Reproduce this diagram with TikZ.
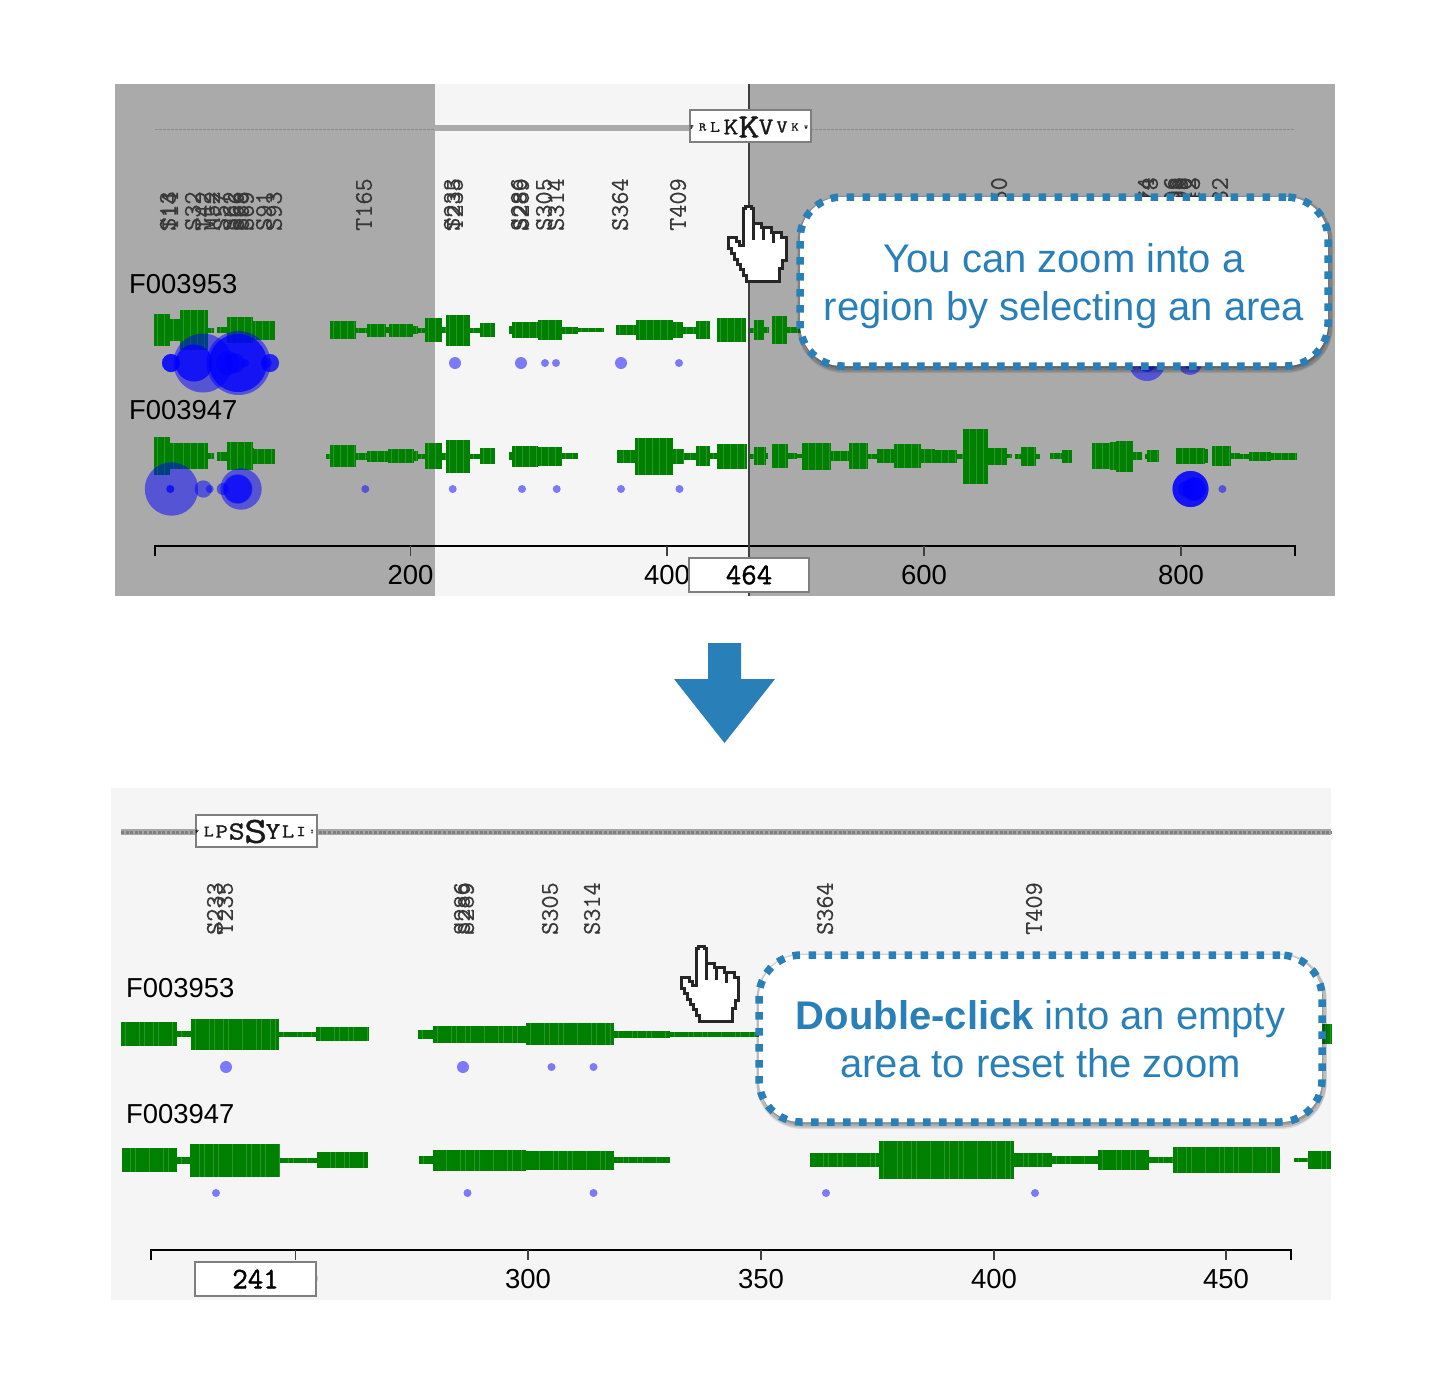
\documentclass[tikz,border=0pt]{standalone}
\usepackage{fontspec}
\setmainfont{Liberation Sans}
\newfontfamily\logofont[FakeBold=1.2,FakeStretch=1.2]{Latin Modern Mono}
\newfontfamily\posfont[FakeBold=1.2]{Latin Modern Mono}
\newfontfamily\labfont[FakeBold=.25]{Latin Modern Mono}
\usetikzlibrary{shadows}
\definecolor{calloutblue}{HTML}{2980B9}
\definecolor{panelbg}{HTML}{F5F5F5}
\definecolor{maskgrey}{HTML}{AAAAAA}
\definecolor{genedark}{HTML}{008000}
\definecolor{genelight}{HTML}{2A932A}
\definecolor{logoedge}{HTML}{7F7F7F}
\tikzset{
  vlab/.style={rotate=90,anchor=west,inner sep=0pt,text=black!78,font=\labfont\fontsize{25.5}{25.5}\selectfont},
  vfrag/.style={rotate=90,anchor=east,inner sep=0pt,text=black!78,font=\labfont\fontsize{25.5}{25.5}\selectfont},
  seqname/.style={anchor=base west,inner sep=0pt,font=\fontsize{27.4}{30}\selectfont},
  ticklab/.style={anchor=base,inner sep=0pt,font=\fontsize{27.5}{30}\selectfont},
  axisline/.style={draw=black,line width=1.6pt},
  axistick/.style={draw=black!75,line width=1.3pt},
  logobox/.style={draw=logoedge,fill=white,line width=2pt,inner sep=0pt,outer sep=0pt,minimum width=121pt,minimum height=32pt},
  posbox/.style={draw=logoedge,fill=white,line width=2pt,inner sep=0pt,outer sep=0pt,minimum width=120pt,minimum height=34pt,
     font=\posfont\fontsize{30}{30}\selectfont},
  logoletter/.style={inner sep=0pt,text=black!90},
  dot/.style={fill=blue,fill opacity=.5},
  callout/.style={draw=calloutblue,fill=white,line width=7.5pt,dash pattern=on 7.5pt off 8.5pt,rounded corners=42pt,
     inner sep=0pt,outer sep=0pt,
     drop shadow={shadow xshift=1pt,shadow yshift=-3.5pt,opacity=.1,fill=black,draw=black,solid,line width=7pt},
     drop shadow={shadow xshift=1pt,shadow yshift=-2pt,opacity=.14,fill=black,draw=black,solid,line width=7pt}},
  callouttext/.style={inner sep=0pt,align=center,text=calloutblue,font=\fontsize{40}{48}\selectfont},
  cursorhand/.pic={
    \draw[fill=white,draw=black!85,line width=3pt,miter limit=4]
      (16.7,39)--(16.7,2)--(19,2)--(19,0)--(25,0)--(25,2)--(26.7,2)--(26.7,17)--(35,17)--(35,21)--(45,21)--(45,26)
      --(55,26)--(55,31)--(59.3,31)--(59.3,54)--(56,54)--(56,62)--(53,62)--(53,74.7)--(20,74.7)--(20,69)--(17,69)
      --(17,63)--(14,63)--(14,58)--(11,58)--(11,53)--(8,53)--(8,47)--(5,47)--(5,42)--(2,42)--(2,31)--(10,31)--(10,35)
      --(13,35)--(13,39)--cycle;
    \draw[draw=black!85,line width=2.6pt] (26.7,17)--(26.7,33) (36.7,21)--(36.7,33) (47,26)--(47,36);
  }
}
\newcommand\genebars[3]{\foreach \a/\b/\h in {#3}{%
  \fill[genelight] (\a,#1-\h) rectangle (\b,#1+\h);%
  \draw[genedark,line width=2*\h pt,dash pattern=on #2pt off .5pt] (\a,#1)--(\b,#1);}}
\begin{document}
\begin{tikzpicture}[x=1pt,y=-1pt]
\useasboundingbox (0,0) rectangle (1447,1385);
\fill[white] (0,0) rectangle (1447,1385);
% ---------- top panel ----------
\fill[panelbg] (115,84) rectangle (1335,596);
\fill[maskgrey] (115,84) rectangle (435,596);
\fill[maskgrey] (749,84) rectangle (1335,596);
\fill[maskgrey] (435,125) rectangle (690,131);
\draw[black!45,line width=.6pt,dash pattern=on 3pt off 1pt] (155,129)--(435,129);
\draw[black!45,line width=.6pt,dash pattern=on 3pt off 1pt] (811,129)--(1295,129);
\foreach \x/\t [count=\i] in {168/S13,170/T14,193/S32,203/T42,212/M52,221/S57,231/S62,236/S66,241/S68,246/S69,264/S91,274/S93}
  \node[vlab] (ta\i) at (\x,231) {\t};
\foreach \x/\t [count=\i] in {364/T165,452/S233,455/T235,519/S286,521/S289,544/S305,556/S314,620/S364,678/T409}
  \node[vlab] (tb\i) at (\x,231) {\t};
\foreach \x/\t [count=\i] in {999/50,1146/74,1150/78,1172/06,1176/08,1180/09,1184/10,1188/12,1192/13,1220/32}
  \node[vfrag] (tc\i) at (\x,177) {\t};
\node[seqname] (n1) at (129,293) {F003953};
\node[seqname] (n2) at (129,419) {F003947};
% row 1
\genebars{330}{3}{154/170/16,170/180/10.7,180/208/20,208/214/2.5,217/227/3,227/252/13,252/275/9.5,
  330/355/9,355/367/2.5,367/386/6.5,386/389/3,389/413/6.5,413/418/4,418/425/2.5,425/442/12,442/446/3,446/470/15.5,470/480/2.5,480/495/7,
  509/512/4,512/538/8,538/562/10,562/578/3.5,578/603/2,
  616/636/5,636/673/10,673/683/8,683/696/3.5,696/710/9,717/746/12,750/754/2.5,754/764/10,764/768/3,772/787/14,787/803/3,803/830/13}
% row 2
\genebars{456}{3}{154/170/19,170/180/13,180/208/13,208/214/3,217/227/4.5,227/252/14,252/254/8,254/275/7.5,
  326/330/2.5,330/355/11,355/367/3.5,367/388/5.5,388/413/7,413/418/5,418/425/2.5,425/442/13,442/446/3.5,446/470/16.5,470/480/2.5,480/495/8,
  509/512/4,512/538/10.5,538/562/9.5,562/578/3,
  616.5/635.4/6.5,635.4/673.3/18.5,673.3/683.6/7.5,683.6/696/3.5,696/710/10,710/716.7/3,716.7/746.5/12.5,750.3/754/2.5,754/765/9,765/768/3,
  771.5/787.6/12,787.6/796.6/3,796.6/801.8/2,801.8/830/13.5,830/849/5,849/868.4/13,868.4/876.5/2.5,876.5/894.4/7,894.4/921.4/12,921.4/934.6/7,
  934.6/955.9/6.5,955.9/962.5/2.5,962.5/987.5/27.5,987.5/1007.4/8.5,1007.4/1011/2,1015/1020.6/2.5,1020.6/1034.8/9.5,1034.8/1039.5/2.5,
  1050/1061.7/3,1061.7/1071.6/6.5,1092/1110.4/13,1110.4/1116/14,1116/1133/15.5,1133/1142/4,1145/1147/2.5,1147/1157.7/6,
  1175.6/1205/8,1205/1208/7,1212/1231/10,1231/1240/3,1240/1249/2.5,1249/1271/4.5,1271/1296/3.5}
% expression circles
\foreach \x/\y/\r in {171/363/9,171/363/9,171/363/9,203/363/29.5,194/363/18.5,194/363/18.5,238.5/363/32,238/363/29,238/363/29,228/363/12,235/363/10,245/363/4,
  270/363/9,270/363/9,267/363/5,455/363/6,521/363/6,545/363/4,556/363/4,621/363/6,679/363/4,1147/363/18,1147/363/9,1190/363/12,1190/363/6,
  171.5/489/26.7,170.3/489/4,170.3/489/4,203.3/489/8.7,209.7/489/4,222.7/489/6,241/489/20.7,237.7/489/14.7,237.7/489/14,
  365.3/489/4,452.7/489/4,522/489/4,556.7/489/4,621/489/4,679.5/489/4,1190.5/489/18,1190.5/489/18,1190.5/489/18,1194/489/12,1186/489/8,1194/489/11,1222.4/489/4}
  \fill[dot] (\x,\y) circle[radius=\r];
% axis
\draw[axisline] (155,556)--(155,546)--(1295,546)--(1295,556);
\foreach \x/\t in {410.5/200,667/400,924/600,1181/800}{
  \draw[axistick] (\x,546)--(\x,556);
  \node[ticklab] (tick\t) at (\x,584) {\t};
}
% selection edge
\draw[black!75,line width=1.3pt] (749,84)--(749,596);
% logos and position boxes
\node[logobox] (logoA) at (750,126) {};
\foreach \x/\t/\s [count=\i] in {692/F/5,702.7/R/12,715/L/16,731/K/24,749/K/34,766/V/24,782/V/18,795/K/12,806/W/5}
  \node[logoletter,font=\logofont\fontsize{\s}{\s}\selectfont] (la\i) at (\x,127) {\t};
\node[posbox] (posA) at (749,575) {464};
% callout 1
\pic at (726.7,206.7) {cursorhand};
\node[callout,minimum width=528pt,minimum height=169pt] (c1) at (1064,281.5) {};
\node[callouttext] (c1t) at (c1.center) [yshift=-5pt] {You can zoom into a\\region by selecting an area};
% arrow between panels
\fill[calloutblue] (708,643)--(741,643)--(741,679)--(775,679)--(724.5,743)--(674,679)--(708,679)--cycle;
% ---------- bottom panel ----------
\fill[panelbg] (111,788) rectangle (1331,1300);
\draw[black!35,line width=6pt] (121,832)--(1331,832);
\draw[black!50,line width=3pt,dash pattern=on 3pt off 1.6pt] (121,832)--(1331,832);
\foreach \x/\t [count=\i] in {215/S233,225/T235,462/S286,466/S289,550/S305,592/S314,825/S364,1034/T409}
  \node[vlab] (bb\i) at (\x,935) {\t};
\node[seqname] (n3) at (126,997) {F003953};
\node[seqname] (n4) at (126,1123) {F003947};
\genebars{1034}{4.2}{121/177/12,177/191/3,191/279/15.5,279/316/2.5,316/368/7,418/433/4.5,433/526/8.5,526/614/11,614/670/3.5,670/1307/2.5,1307/1331/10}
\genebars{1160}{4.2}{121.5/177/12.3,177/190.4/3.5,190.4/279.5/16.5,279.5/316.7/2.5,316.7/367.6/8,419/432.6/4,432.6/525.6/10.5,525.6/614.4/9.5,614.4/670/3,
  809.7/879/6.7,879/1014.4/18.7,1014.4/1051.8/7.3,1051.8/1098/4,1098/1149.4/10,1149.4/1172.8/2.7,1172.8/1279.5/12.7,1293.8/1307.7/2.3,1307.7/1331/9}
\foreach \x/\y/\r in {226/1067/6,463/1067/6,551.5/1067/4,593.5/1067/4,216/1193/4,467.5/1193/4,593.5/1193/4,826/1193/4,1035/1193/4}
  \fill[dot] (\x,\y) circle[radius=\r];
\draw[axisline] (151,1260)--(151,1250)--(1291,1250)--(1291,1260);
\foreach \x/\t in {295.5/250,528/300,761/350,994/400,1226/450}{
  \draw[axistick] (\x,1250)--(\x,1260);
  \node[ticklab] (btick\t) at (\x,1288) {\t};
}
\node[logobox] (logoB) at (256,831) {};
\foreach \x/\t/\s [count=\i] in {197/F/5,208.7/L/16,221.7/P/20,236.7/S/26,255.7/S/37,273/Y/24,288/L/20,301/I/15,312/I/5}
  \node[logoletter,font=\logofont\fontsize{\s}{\s}\selectfont] (lb\i) at (\x,831.5) {\t};
\node[posbox,minimum width=121pt] (posB) at (255.5,1279) {241};
\pic at (679.5,946.7) {cursorhand};
\node[callout,minimum width=563pt,minimum height=167pt] (c2) at (1040.5,1038.5) {};
\node[callouttext] (c2t) at (c2.center) [yshift=-1pt] {\textbf{Double-click} into an empty\\area to reset the zoom};
\end{tikzpicture}
\end{document}
